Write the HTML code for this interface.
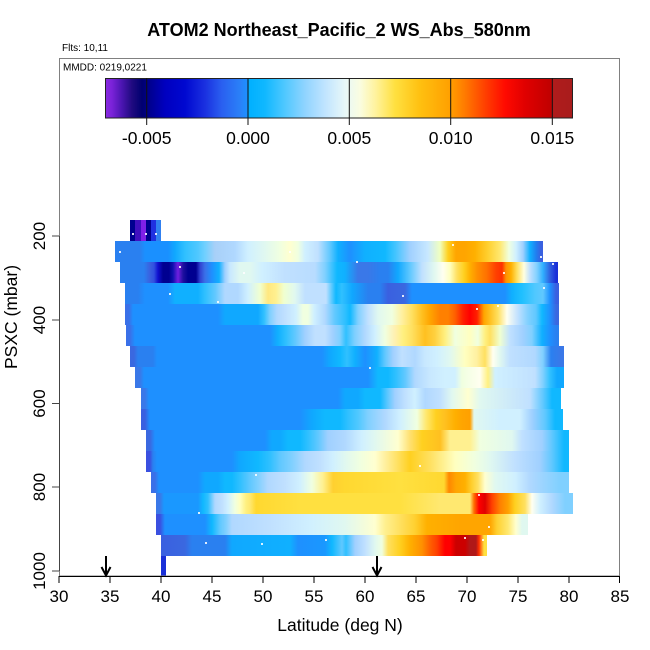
<!DOCTYPE html>
<html><head><meta charset="utf-8"><style>
html,body{margin:0;padding:0;background:#fff;}
#c{position:relative;width:650px;height:650px;overflow:hidden;background:#fff;font-family:"Liberation Sans",Arial,sans-serif;}
.r{position:absolute;left:0;width:650px;height:21px;}
svg{position:absolute;left:0;top:0;}
</style></head><body><div id="c">

<!-- colorbar -->
<div style="position:absolute;left:105px;top:78px;width:468px;height:40px;background:linear-gradient(to right,#8a2be2 0px,#7a22d8 7px,#4a15b0 17px,#200a80 27px,#000070 37px,#000090 45px,#0000c0 60px,#0008d0 80px,#1a30e0 100px,#2a60f0 117px,#2a80f8 135px,#1e90ff 142px,#00b0ff 144px,#10b8ff 160px,#50c8ff 180px,#90d4ff 200px,#c0e4ff 220px,#e8f8f8 240px,#fafde0 255px,#fff3a0 270px,#ffe040 290px,#ffc010 315px,#ffa000 345px,#ff7a00 360px,#ff4000 380px,#ff0a00 400px,#e00000 420px,#c00000 446px,#b01c1c 448px,#a81c1c 468px);"></div>

<!-- heatmap rows -->
<div class="r" style="top:220px;clip-path:inset(0 489px 0 130px);background:linear-gradient(to right,#000090 130px,#000090 135px,#4010c0 135px,#4010c0 141px,#8020e8 141px,#8020e8 146px,#000090 146px,#000090 151px,#2030e0 151px,#2030e0 156px,#3080f0 156px,#3080f0 161px);"></div>

<div class="r" style="top:241px;clip-path:inset(0 107px 0 115px);background:linear-gradient(to right,#2a80f0 115px,#2a80f0 140px,#1a90ff 145px,#1a90ff 168px,#10a8ff 175px,#30c0ff 185px,#50c8ff 198px,#70d0ff 205px,#a8d0f8 215px,#b0d8ff 235px,#d0f0ff 248px,#e0f8f0 265px,#f0ffe0 280px,#ffffd0 290px,#f0ffe0 298px,#d0f0ff 305px,#c0e0ff 318px,#60c8ff 330px,#10b0ff 338px,#1e90ff 350px,#10b0ff 365px,#10b8ff 385px,#40c4ff 395px,#a0d0ff 410px,#c8e8ff 428px,#f0ffc0 440px,#ffd020 448px,#ffa500 456px,#ffa500 465px,#ffb000 475px,#ffd030 488px,#ffe870 500px,#f0ffe0 509px,#d0f0ff 516px,#a0d0ff 523px,#10b0ff 530px,#2080f0 536px,#3a60e0 541px);"></div>

<div class="r" style="top:262px;clip-path:inset(0 92px 0 120px);background:linear-gradient(to right,#2a80f0 120px,#2a80f0 144px,#3a60e0 150px,#3050e0 154px,#1010d0 158px,#000090 163px,#000090 169px,#1010b0 173px,#7020e0 178px,#2010a0 183px,#000090 188px,#000090 196px,#3040d0 200px,#3a70e8 205px,#1e90ff 212px,#10b0ff 219px,#a0d0ff 225px,#c8e8ff 230px,#e0f8f0 240px,#e0f8f0 250px,#d0f0ff 262px,#c0e0ff 285px,#b8dcff 315px,#80d0ff 325px,#10b8ff 337px,#10b0ff 345px,#3a78e8 358px,#3a78e8 368px,#2a80f0 380px,#2a80f0 388px,#10a8ff 398px,#60c8ff 410px,#c0e0ff 422px,#e0f8f0 434px,#fffff0 443px,#ffffc0 450px,#ffe060 457px,#ffd020 464px,#ffb000 470px,#ff9000 477px,#ff7000 487px,#ff4000 496px,#ff3000 502px,#ff9000 506px,#ffb000 511px,#ffe060 517px,#ffffe0 524px,#c0e0ff 530px,#80d0ff 537px,#30b0ff 543px,#3060e0 550px,#1a30d8 556px);"></div>

<div class="r" style="top:283px;clip-path:inset(0 91px 0 125px);background:linear-gradient(to right,#2a80f0 125px,#2a80f0 138px,#1e90ff 145px,#1e90ff 168px,#10b0ff 175px,#10b0ff 198px,#30c0ff 205px,#60c8ff 215px,#b0d8ff 225px,#b0d8ff 238px,#d0f0ff 248px,#f0ffd0 260px,#ffe880 268px,#fff090 276px,#f0ffd0 284px,#e0f8f0 295px,#c0e0ff 305px,#c0e0ff 326px,#10b8ff 336px,#30c0ff 342px,#10a8ff 352px,#2a80f0 368px,#2a80f0 380px,#3a60e0 388px,#3a68e0 405px,#1e90ff 412px,#1e90ff 505px,#10b0ff 512px,#20c0ff 522px,#50c8ff 535px,#60c8ff 543px,#1e90ff 550px,#3a60e0 556px);"></div>

<div class="r" style="top:304px;clip-path:inset(0 91px 0 125px);background:linear-gradient(to right,#3a70e8 125px,#3a70e8 129px,#1e90ff 133px,#1e90ff 218px,#10a8ff 225px,#10a8ff 258px,#30c0ff 264px,#80d0ff 270px,#b0d8ff 277px,#c0e0ff 285px,#d0f0ff 296px,#f0ffe0 303px,#f0ffe0 308px,#d0f0ff 314px,#b0d8ff 325px,#60c8ff 335px,#30c0ff 345px,#10b8ff 350px,#80d0ff 358px,#c0e0ff 368px,#e0f8f0 378px,#f0ffe0 392px,#fff0a0 402px,#ffe060 412px,#ffc020 422px,#ffa500 430px,#ff8000 440px,#ff8000 448px,#ff6000 455px,#ff2000 463px,#ff0000 470px,#ff2000 477px,#ffa500 484px,#ffc020 490px,#ffe060 498px,#fffff0 507px,#c0e0ff 518px,#80d0ff 528px,#60c8ff 536px,#10b8ff 542px,#1e90ff 550px,#3a68e0 556px);"></div>

<div class="r" style="top:325px;clip-path:inset(0 91px 0 126px);background:linear-gradient(to right,#3a70e8 126px,#3a70e8 130px,#1e90ff 135px,#1e90ff 270px,#10b0ff 278px,#30c0ff 286px,#60c8ff 295px,#a0d0ff 305px,#c0e0ff 315px,#c0e0ff 325px,#a0d0ff 333px,#80d0ff 340px,#30c0ff 346px,#80d0ff 355px,#b0d8ff 365px,#d0f0ff 375px,#f0ffe0 385px,#fff0b0 395px,#fff080 403px,#ffe060 412px,#ffc020 425px,#ffd040 435px,#fff080 445px,#f0ffe0 455px,#ffffc0 470px,#f0ffe0 478px,#fff080 485px,#ffe060 490px,#f0ffd0 500px,#c0e0ff 510px,#a0d0ff 523px,#80d0ff 532px,#10b0ff 542px,#1e90ff 550px,#2a80f0 556px);"></div>

<div class="r" style="top:346px;clip-path:inset(0 86px 0 130px);background:linear-gradient(to right,#3a68e0 130px,#3a68e0 134px,#2a80f0 138px,#2a80f0 153px,#1e90ff 157px,#1e90ff 322px,#10a8ff 330px,#10b8ff 340px,#30c0ff 347px,#10b0ff 355px,#1e90ff 365px,#10b0ff 377px,#60c8ff 385px,#a0d0ff 393px,#c0e0ff 402px,#b0d8ff 415px,#c8e8ff 425px,#d0f0ff 437px,#e0f8f0 450px,#ffffc0 465px,#fff0a0 477px,#ffe060 485px,#fffff0 493px,#e0f8f0 500px,#c0e0ff 510px,#b0d8ff 535px,#80d0ff 543px,#2a80f0 551px,#3a78e8 561px);"></div>

<div class="r" style="top:367px;clip-path:inset(0 86px 0 135px);background:linear-gradient(to right,#3a78e8 135px,#3a78e8 140px,#1e90ff 144px,#1e90ff 368px,#10b8ff 378px,#10b8ff 388px,#30c0ff 396px,#60c8ff 405px,#b0d8ff 415px,#c8e8ff 430px,#d0f0ff 445px,#d0f0ff 455px,#f0ffe0 462px,#fffff0 480px,#fff080 488px,#d0f0ff 495px,#c0e0ff 535px,#80d0ff 543px,#30c0ff 550px,#10a8ff 557px,#10a8ff 562px);"></div>

<div class="r" style="top:388px;clip-path:inset(0 89px 0 141px);background:linear-gradient(to right,#3a78e8 141px,#3a78e8 145px,#1e90ff 149px,#1e90ff 338px,#10a8ff 345px,#10a8ff 358px,#10b8ff 365px,#10b8ff 380px,#60c8ff 388px,#a0d0ff 395px,#c0e0ff 405px,#d0f0ff 415px,#b0d8ff 425px,#c0e0ff 440px,#e0f8f0 452px,#ffffd0 468px,#e0f8f0 480px,#c0e0ff 530px,#60c8ff 543px,#10b8ff 552px,#10b8ff 558px);"></div>

<div class="r" style="top:409px;clip-path:inset(0 87px 0 141px);background:linear-gradient(to right,#3a60e0 141px,#3a60e0 145px,#1e90ff 150px,#1e90ff 300px,#10a8ff 312px,#10b8ff 325px,#10b8ff 340px,#30c0ff 348px,#50c8ff 358px,#80d0ff 368px,#b0d8ff 385px,#d0f0ff 400px,#f0ffe0 417px,#ffe870 426px,#ffd020 436px,#ffc020 445px,#ffb000 455px,#ffa500 462px,#ffa000 470px,#e0f8f0 474px,#d0f0ff 500px,#d0f0ff 520px,#a0d0ff 532px,#60c8ff 545px,#10b8ff 555px,#10b8ff 561px);"></div>

<div class="r" style="top:430px;clip-path:inset(0 81px 0 146px);background:linear-gradient(to right,#3a68e0 146px,#3a68e0 150px,#1e90ff 155px,#1e90ff 265px,#10a8ff 272px,#10a8ff 280px,#10b8ff 288px,#10b8ff 300px,#30c0ff 308px,#60c8ff 318px,#a0d0ff 328px,#b0d8ff 345px,#d0f0ff 362px,#e0f8f0 375px,#ffffd0 398px,#ffe070 410px,#ffd020 422px,#ffc020 440px,#fff090 450px,#fff090 470px,#f0ffe0 480px,#e0f8f0 512px,#c0e0ff 522px,#a0d0ff 542px,#60c8ff 552px,#10b8ff 564px,#10b8ff 567px);"></div>

<div class="r" style="top:451px;clip-path:inset(0 81px 0 146px);background:linear-gradient(to right,#3a50e0 146px,#3a50e0 150px,#2a80f0 153px,#1e90ff 157px,#1e90ff 232px,#10a8ff 240px,#10b8ff 258px,#30c0ff 270px,#60c8ff 280px,#80d0ff 292px,#b0d8ff 305px,#c0e0ff 320px,#d0f0ff 333px,#e0f8f0 345px,#f0ffe0 360px,#ffffd0 375px,#fff0a0 385px,#ffe060 398px,#ffd020 410px,#ffe060 430px,#fff090 443px,#ffffc0 455px,#f0ffe0 475px,#e0f8f0 490px,#c0e0ff 515px,#a0d0ff 540px,#60c8ff 552px,#10b8ff 564px,#10b8ff 567px);"></div>

<div class="r" style="top:472px;clip-path:inset(0 81px 0 151px);background:linear-gradient(to right,#3a70e8 151px,#3a70e8 155px,#1e90ff 159px,#1e90ff 198px,#10a8ff 205px,#10a8ff 218px,#10b8ff 225px,#10b8ff 232px,#30c0ff 240px,#60c8ff 250px,#80d0ff 258px,#b0d8ff 268px,#c0e0ff 285px,#d0f0ff 300px,#f0ffe0 312px,#fff090 323px,#ffd030 333px,#ffd830 345px,#ffe040 400px,#ffd830 444px,#ff8800 449px,#ffa500 456px,#ffb000 465px,#ffd030 472px,#ffe060 478px,#ffffd0 485px,#e0f8f0 495px,#d0f0ff 515px,#b0d8ff 530px,#80d0ff 560px,#80d0ff 567px);"></div>

<div class="r" style="top:493px;clip-path:inset(0 77px 0 156px);background:linear-gradient(to right,#3a78e8 156px,#3a78e8 160px,#1a98ff 164px,#1a98ff 198px,#10b8ff 203px,#30c0ff 208px,#b0d8ff 215px,#c0e0ff 222px,#d0f0ff 228px,#f0ffe0 235px,#ffffc0 240px,#fff080 246px,#ffe870 250px,#ffd830 256px,#ffe040 300px,#ffe040 400px,#ffe870 440px,#ffe870 470px,#ff7000 474px,#ff0000 479px,#e00000 485px,#ff4000 492px,#ff8000 500px,#ffa000 508px,#ffd020 515px,#ffe060 525px,#fffff0 532px,#d0f0ff 540px,#b0d8ff 552px,#80d0ff 565px,#80d0ff 571px);"></div>

<div class="r" style="top:514px;clip-path:inset(0 122px 0 156px);background:linear-gradient(to right,#3a50e0 156px,#3a50e0 160px,#1e90ff 165px,#1e90ff 205px,#10b8ff 212px,#60c8ff 220px,#80d0ff 226px,#b0d8ff 232px,#c0e0ff 270px,#d0f0ff 310px,#e0f8f0 345px,#ffffd0 375px,#fff090 385px,#ffe060 400px,#ffd030 415px,#ffb000 427px,#ffa500 460px,#ffa500 490px,#ffd030 497px,#ffe870 508px,#ffffd0 516px,#e0f8f0 522px,#e0f8f0 528px);"></div>

<div class="r" style="top:535px;clip-path:inset(0 163px 0 161px);background:linear-gradient(to right,#3a60e0 161px,#3a68e0 185px,#2a80f0 192px,#2a80f0 225px,#10a8ff 232px,#10b0ff 290px,#1e90ff 298px,#1a98ff 325px,#10b8ff 332px,#60c8ff 342px,#30c0ff 346px,#a0d0ff 355px,#c0e0ff 365px,#e0f8f0 375px,#f0ffe0 382px,#ffe060 388px,#ffd020 400px,#ffb000 410px,#ff9000 422px,#ff6000 430px,#ff4000 437px,#ff0000 445px,#ff0000 450px,#cc0000 456px,#cc0000 465px,#b01818 470px,#b01818 476px,#ff3000 479px,#ffe040 484px,#ffe040 487px);"></div>

<div style="position:absolute;left:161px;top:556px;width:5px;height:20px;background:#1a30d8;"></div>

<svg width="650" height="650" viewBox="0 0 650 650" font-family="Liberation Sans, Arial, sans-serif">
  <!-- small data dots -->
  <g fill="#ffffff" opacity="0.85">
    <rect x="132" y="233" width="2" height="2"/><rect x="145" y="233" width="2" height="2"/><rect x="155" y="233" width="2" height="2"/>
    <rect x="119" y="251" width="2" height="2"/><rect x="289" y="251" width="2" height="2"/><rect x="452" y="244" width="2" height="2"/>
    <rect x="356" y="261" width="2" height="2"/><rect x="540" y="256" width="2" height="2"/><rect x="179" y="266" width="2" height="2"/>
    <rect x="243" y="272" width="2" height="2"/><rect x="503" y="272" width="2" height="2"/><rect x="552" y="263" width="2" height="2"/>
    <rect x="169" y="293" width="2" height="2"/><rect x="217" y="301" width="2" height="2"/><rect x="402" y="295" width="2" height="2"/>
    <rect x="543" y="287" width="2" height="2"/><rect x="476" y="308" width="2" height="2"/><rect x="497" y="305" width="2" height="2"/>
    <rect x="369" y="367" width="2" height="2"/><rect x="464" y="537" width="2" height="2"/><rect x="482" y="539" width="2" height="2"/>
    <rect x="205" y="542" width="2" height="2"/><rect x="261" y="543" width="2" height="2"/><rect x="325" y="539" width="2" height="2"/>
    <rect x="198" y="512" width="2" height="2"/><rect x="419" y="465" width="2" height="2"/><rect x="478" y="494" width="2" height="2"/>
    <rect x="488" y="526" width="2" height="2"/><rect x="255" y="474" width="2" height="2"/>
  </g>

  <!-- plot box -->
  <rect x="59.5" y="58.5" width="560" height="517.5" fill="none" stroke="#808080" stroke-width="1"/>

  <!-- colorbar outline and ticks -->
  <rect x="105.5" y="78.5" width="467" height="39.5" fill="none" stroke="#222" stroke-width="1"/>
  <g stroke="#111" stroke-width="1">
    <line x1="146.7" y1="78" x2="146.7" y2="125"/>
    <line x1="248" y1="78" x2="248" y2="125"/>
    <line x1="349.3" y1="78" x2="349.3" y2="125"/>
    <line x1="450.7" y1="78" x2="450.7" y2="125"/>
    <line x1="552.3" y1="78" x2="552.3" y2="125"/>
  </g>
  <g font-size="17.5" text-anchor="middle" fill="#000">
    <text x="146.7" y="144">-0.005</text>
    <text x="248" y="144">0.000</text>
    <text x="349.3" y="144">0.005</text>
    <text x="450.7" y="144">0.010</text>
    <text x="552.3" y="144">0.015</text>
  </g>

  <!-- axes -->
  <line x1="59" y1="576.5" x2="620" y2="576.5" stroke="#000" stroke-width="1"/>
  <g stroke="#000" stroke-width="1">
    <line x1="59" y1="576" x2="59" y2="583"/><line x1="110" y1="576" x2="110" y2="583"/>
    <line x1="161" y1="576" x2="161" y2="583"/><line x1="212" y1="576" x2="212" y2="583"/>
    <line x1="263" y1="576" x2="263" y2="583"/><line x1="314" y1="576" x2="314" y2="583"/>
    <line x1="365" y1="576" x2="365" y2="583"/><line x1="416" y1="576" x2="416" y2="583"/>
    <line x1="467" y1="576" x2="467" y2="583"/><line x1="518" y1="576" x2="518" y2="583"/>
    <line x1="569" y1="576" x2="569" y2="583"/><line x1="619.5" y1="576" x2="619.5" y2="583"/>
  </g>
  <g font-size="17" text-anchor="middle" fill="#000">
    <text x="59" y="602">30</text><text x="110" y="602">35</text><text x="161" y="602">40</text>
    <text x="212" y="602">45</text><text x="263" y="602">50</text><text x="314" y="602">55</text>
    <text x="365" y="602">60</text><text x="416" y="602">65</text><text x="467" y="602">70</text>
    <text x="518" y="602">75</text><text x="569" y="602">80</text><text x="620" y="602">85</text>
  </g>
  <line x1="59.5" y1="236" x2="59.5" y2="571" stroke="#444" stroke-width="1"/>
  <g stroke="#444" stroke-width="1">
    <line x1="52" y1="236" x2="59" y2="236"/><line x1="52" y1="320" x2="59" y2="320"/>
    <line x1="52" y1="403.5" x2="59" y2="403.5"/><line x1="52" y1="487" x2="59" y2="487"/>
    <line x1="52" y1="571" x2="59" y2="571"/>
  </g>
  <g font-size="17" text-anchor="middle" fill="#000">
    <text transform="translate(45,236) rotate(-90)">200</text>
    <text transform="translate(45,320) rotate(-90)">400</text>
    <text transform="translate(45,403.5) rotate(-90)">600</text>
    <text transform="translate(45,487) rotate(-90)">800</text>
    <text transform="translate(45,571) rotate(-90)">1000</text>
  </g>

  <!-- arrows -->
  <g stroke="#000" stroke-width="2" fill="none">
    <line x1="106" y1="556" x2="106" y2="575"/>
    <polyline points="101.5,567 106,575.5 110.5,567"/>
    <line x1="377" y1="556" x2="377" y2="575"/>
    <polyline points="372.5,567 377,575.5 381.5,567"/>
  </g>

  <!-- titles -->
  <text x="339" y="36" font-size="18" font-weight="bold" text-anchor="middle" fill="#000">ATOM2 Northeast_Pacific_2 WS_Abs_580nm</text>
  <text x="62" y="51" font-size="10" fill="#000">Flts: 10,11</text>
  <text x="63" y="70.5" font-size="10" fill="#000">MMDD: 0219,0221</text>
  <text x="340" y="631" font-size="17.5" text-anchor="middle" fill="#000">Latitude (deg N)</text>
  <text transform="translate(17,317) rotate(-90)" font-size="17.5" text-anchor="middle" fill="#000">PSXC (mbar)</text>
</svg>
</div></body></html>
